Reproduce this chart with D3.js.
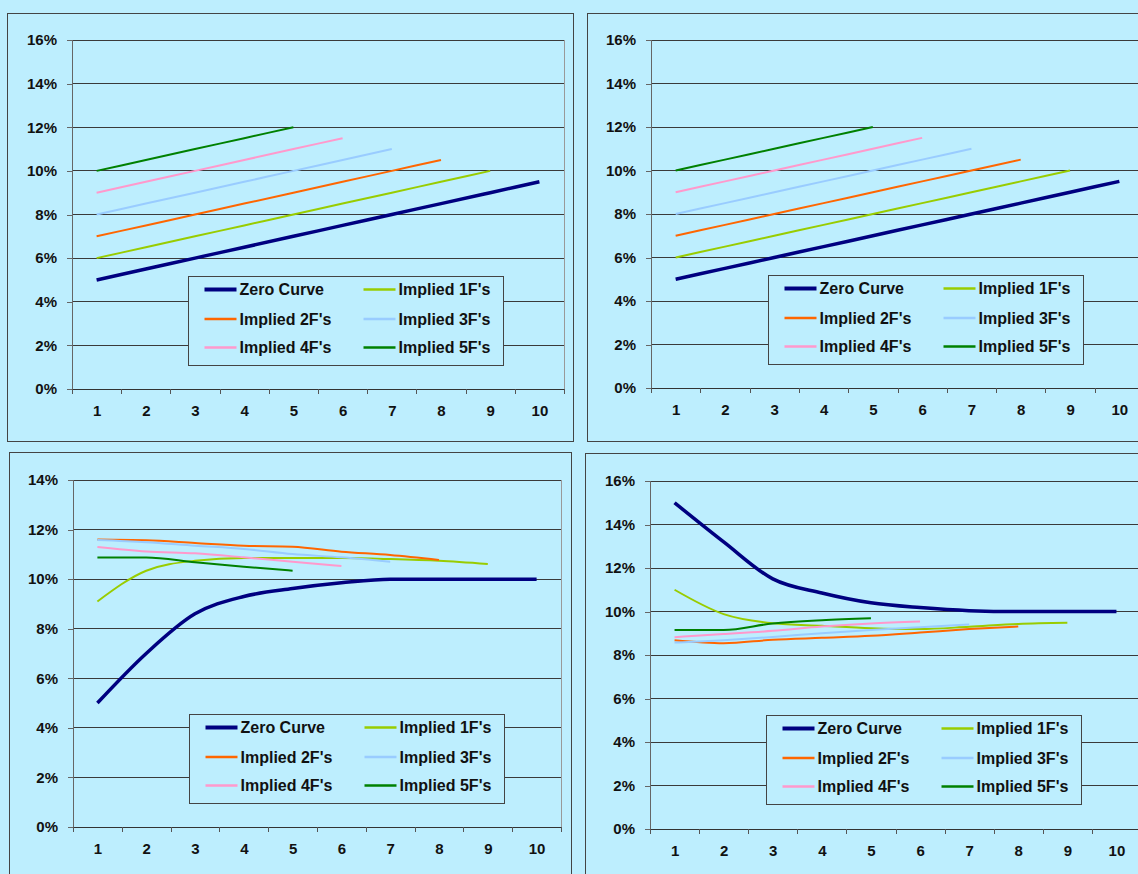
<!DOCTYPE html>
<html>
<head>
<meta charset="utf-8">
<script src="https://cdn.jsdelivr.net/npm/d3@7"></script>
<style>
  body { margin: 0; background: #bdeefe; }
  svg { display: block; font-family: "Liberation Sans", Arial, sans-serif; font-weight: bold; }
</style>
</head>
<body>
<div class="d3Chart"></div>
<script>
// categories (years) and series
var years = [1, 2, 3, 4, 5, 6, 7, 8, 9, 10];
var seriesNames = ["Zero Curve", "Implied 1F's", "Implied 2F's", "Implied 3F's", "Implied 4F's", "Implied 5F's"];
var seriesColors = ["#000080", "#99cc00", "#ff6600", "#99ccff", "#ff99cc", "#008000"];

// upward sloping zero curve (top charts), values in %
var upZero = [5, 5.5, 6, 6.5, 7, 7.5, 8, 8.5, 9, 9.5];
var up1F = [6, 6.5, 7, 7.5, 8, 8.5, 9, 9.5, 10];
var up2F = [7, 7.5, 8, 8.5, 9, 9.5, 10, 10.5];
var up3F = [8, 8.5, 9, 9.5, 10, 10.5, 11];
var up4F = [9, 9.5, 10, 10.5, 11, 11.5];
var up5F = [10, 10.5, 11, 11.5, 12];

// humped curve (bottom left)
var humpZero = [5, 7, 8.6, 9.3, 9.62, 9.85, 10, 10, 10, 10];
var hump1F = [9.1, 10.34, 10.74, 10.85, 10.85, 10.85, 10.81, 10.74, 10.61];
var hump2F = [11.6, 11.57, 11.46, 11.35, 11.31, 11.11, 10.97, 10.77];
var hump3F = [11.58, 11.49, 11.35, 11.22, 11.01, 10.88, 10.7];
var hump4F = [11.3, 11.12, 11.04, 10.88, 10.7, 10.53];
var hump5F = [10.87, 10.87, 10.68, 10.5, 10.34];

// inverted curve (bottom right)
var invZero = [15, 13.2, 11.5, 10.85, 10.4, 10.18, 10.04, 10, 10, 10];
var inv1F = [11, 9.88, 9.46, 9.34, 9.23, 9.19, 9.3, 9.43, 9.48];
var inv2F = [8.68, 8.54, 8.7, 8.79, 8.88, 9.03, 9.19, 9.31];
var inv3F = [8.57, 8.68, 8.83, 9, 9.15, 9.28, 9.4];
var inv4F = [8.82, 8.96, 9.11, 9.31, 9.45, 9.54];
var inv5F = [9.15, 9.15, 9.45, 9.6, 9.69];

// y tick labels
var yTicks16 = [0, 2, 4, 6, 8, 10, 12, 14, 16];
var yTicks14 = [0, 2, 4, 6, 8, 10, 12, 14];

// layout of the four charts
var panels = [
  { series: [upZero, up1F, up2F, up3F, up4F, up5F], ticks: yTicks16,
    box: [7.5, 13.5, 566, 428], plot: [72, 40, 492, 349], legend: [188.5, 276.5] },
  { series: [upZero, up1F, up2F, up3F, up4F, up5F], ticks: yTicks16,
    box: [587.5, 13.5, 566, 428], plot: [651, 40, 493, 348], legend: [768.5, 275.5] },
  { series: [humpZero, hump1F, hump2F, hump3F, hump4F, hump5F], ticks: yTicks14,
    box: [9.5, 452.5, 562, 440], plot: [73, 480, 488, 347], legend: [189.5, 714.5] },
  { series: [invZero, inv1F, inv2F, inv3F, inv4F, inv5F], ticks: yTicks16,
    box: [585.5, 453.5, 566, 440], plot: [650, 481, 491, 348], legend: [766.5, 715.5] }
];

var svg = d3.select(".d3Chart").append("svg")
  .attr("width", 1138)
  .attr("height", 874);

panels.forEach(function (p) {
  // panel frame
  svg.append("rect")
    .attr("x", p.box[0]).attr("y", p.box[1])
    .attr("width", p.box[2]).attr("height", p.box[3])
    .attr("fill", "#bdeefe").attr("stroke", "#444").attr("stroke-width", 1);

  var w = p.plot[2], h = p.plot[3];
  var chart = svg.append("g").attr("transform", `translate(${p.plot[0]}, ${p.plot[1]})`);

  var xScale = d3.scaleLinear().domain([0.5, 10.5]).range([0, w]);
  var yScale = d3.scaleLinear().domain([0, d3.max(p.ticks)]).range([h, 0]);

  // plot area border
  chart.append("rect")
    .attr("width", w).attr("height", h)
    .attr("fill", "none").attr("stroke", "#999")
    .attr("shape-rendering", "crispEdges");

  // gridlines
  chart.append("g").selectAll("line")
    .data(p.ticks.filter(function (d) { return d > 0; }))
    .enter().append("line")
    .attr("x1", 0).attr("x2", w)
    .attr("y1", function (d) { return yScale(d); })
    .attr("y2", function (d) { return yScale(d); })
    .attr("stroke", "#3a3a3a")
    .attr("shape-rendering", "crispEdges");

  // Y axis
  var yAxis = d3.axisLeft(yScale).tickValues(p.ticks).tickSize(5).tickPadding(10)
    .tickFormat(function (d) { return d + "%"; });
  var gy = chart.append("g").call(yAxis);
  gy.select(".domain").attr("stroke", "#666");
  gy.selectAll("line").attr("stroke", "#666");
  gy.selectAll("text").style("font-size", "15px").attr("fill", "#111");
  gy.selectAll("path, line").attr("shape-rendering", "crispEdges");

  // X axis: ticks between categories, labels at category centres
  var xTickAxis = d3.axisBottom(xScale).tickValues(d3.range(0.5, 11, 1)).tickSize(5).tickFormat("");
  var gx = chart.append("g").attr("transform", `translate(0, ${h})`).call(xTickAxis);
  gx.select(".domain").attr("stroke", "#333");
  gx.selectAll("line").attr("stroke", "#555");
  gx.selectAll("path, line").attr("shape-rendering", "crispEdges");

  var xLabelAxis = d3.axisBottom(xScale).tickValues(years).tickSize(0).tickPadding(16);
  var gxl = chart.append("g").attr("transform", `translate(0, ${h})`).call(xLabelAxis);
  gxl.select(".domain").remove();
  gxl.selectAll("text").style("font-size", "15px").attr("fill", "#111");

  // series lines
  var line = d3.line()
    .x(function (d, i) { return xScale(years[i]); })
    .y(function (d) { return yScale(d); })
    .curve(d3.curveMonotoneX);

  chart.append("g").selectAll("path")
    .data(p.series)
    .enter().append("path")
    .attr("d", function (d) { return line(d); })
    .attr("fill", "none")
    .attr("stroke", function (d, i) { return seriesColors[i]; })
    .attr("stroke-width", function (d, i) { return i === 0 ? 3.5 : 2; })
    .attr("stroke-linejoin", "round");

  // legend
  var lg = svg.append("g").attr("transform", `translate(${p.legend[0]}, ${p.legend[1]})`);
  lg.append("rect")
    .attr("width", 315).attr("height", 89)
    .attr("fill", "#bdeefe").attr("stroke", "#444");

  var items = lg.selectAll("g.item")
    .data(seriesNames)
    .enter().append("g")
    .attr("class", "item")
    .attr("transform", function (d, i) {
      var col = i % 2, row = Math.floor(i / 2);
      return `translate(${col === 0 ? 16 : 175}, ${[13, 42.5, 71][row]})`;
    });
  items.append("line")
    .attr("x1", 0).attr("x2", 32)
    .attr("stroke", function (d, i) { return seriesColors[i]; })
    .attr("stroke-width", function (d, i) { return i === 0 ? 4 : 2.5; });
  items.append("text")
    .attr("x", 35).attr("dy", "0.36em")
    .style("font-size", "16px").attr("fill", "#111")
    .text(function (d) { return d; });
});
</script>
</body>
</html>
